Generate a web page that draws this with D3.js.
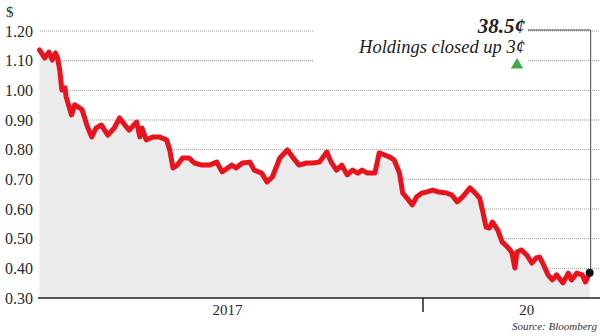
<!DOCTYPE html>
<html><head><meta charset="utf-8">
<script src="https://cdn.jsdelivr.net/npm/d3@7"></script>
<style>body{margin:0;background:#fff}svg{display:block}</style>
</head><body><svg id="c" width="600" height="336"></svg>
<script>
const dates = ["2017-01-07","2017-01-12","2017-01-16","2017-01-19","2017-01-22","2017-01-24","2017-01-26","2017-01-28","2017-01-31","2017-02-01",
"2017-02-06","2017-02-09","2017-02-14","2017-02-16","2017-02-21","2017-02-25","2017-03-01","2017-03-06","2017-03-12","2017-03-18",
"2017-03-23","2017-03-28","2017-04-01","2017-04-08","2017-04-11","2017-04-13","2017-04-17","2017-04-23","2017-04-29","2017-05-06",
"2017-05-09","2017-05-12","2017-05-16","2017-05-21","2017-05-27","2017-06-01","2017-06-08","2017-06-15","2017-06-22","2017-06-27",
"2017-07-06","2017-07-10","2017-07-16","2017-07-23","2017-07-27","2017-08-03","2017-08-08","2017-08-13","2017-08-20","2017-08-27",
"2017-09-01","2017-09-07","2017-09-14","2017-09-20","2017-09-26","2017-10-03","2017-10-07","2017-10-12","2017-10-17","2017-10-22",
"2017-10-27","2017-11-01","2017-11-05","2017-11-10","2017-11-17","2017-11-21","2017-11-26","2017-12-01","2017-12-05","2017-12-10",
"2017-12-13","2017-12-17","2017-12-22","2017-12-26","2017-12-31","2018-01-04","2018-01-10","2018-01-16","2018-01-23","2018-01-28",
"2018-02-02","2018-02-07","2018-02-14","2018-02-18","2018-02-23","2018-02-26","2018-03-01","2018-03-04","2018-03-07","2018-03-12",
"2018-03-16","2018-03-21","2018-03-25","2018-03-28","2018-03-30","2018-04-03","2018-04-08","2018-04-13","2018-04-17","2018-04-20",
"2018-04-23","2018-04-28","2018-05-02","2018-05-06","2018-05-12","2018-05-17","2018-05-20","2018-05-25","2018-05-30","2018-06-02",
"2018-06-06"];
const prices = [1.136,1.109,1.129,1.102,1.126,1.109,1.069,1.001,1.008,0.978,
0.917,0.951,0.940,0.934,0.876,0.843,0.873,0.883,0.849,0.873,
0.907,0.883,0.866,0.893,0.843,0.873,0.833,0.843,0.843,0.833,
0.799,0.738,0.748,0.772,0.772,0.755,0.748,0.748,0.758,0.725,
0.748,0.738,0.755,0.758,0.731,0.721,0.691,0.708,0.772,0.799,
0.775,0.748,0.755,0.755,0.758,0.792,0.758,0.731,0.748,0.715,
0.731,0.721,0.731,0.721,0.721,0.789,0.782,0.775,0.765,0.721,
0.654,0.637,0.614,0.641,0.654,0.657,0.664,0.657,0.654,0.647,
0.624,0.641,0.671,0.657,0.637,0.590,0.539,0.536,0.556,0.529,
0.489,0.472,0.455,0.401,0.455,0.462,0.445,0.418,0.435,0.438,
0.418,0.378,0.361,0.378,0.351,0.384,0.361,0.384,0.378,0.354,
0.385];
const yTicks = [0.30,0.40,0.50,0.60,0.70,0.80,0.90,1.00,1.10,1.20];
const xLabels = ["2017","20"];
const xLabelDates = ["2017-07-02","2018-04-08"];
const xTickDates = ["2018-01-01"];
const unitLabel = "$";
const closeLabel = "38.5¢";
const noteLabel = "Holdings closed up 3¢";
const sourceLabel = "Source: Bloomberg";

const parse = d3.utcParse("%Y-%m-%d");
const data = dates.map((d,i)=>({date:parse(d), value:prices[i]}));
const svg = d3.select("#c");
const serif = "'Liberation Serif','Times New Roman',serif";

const x = d3.scaleUtc().domain([parse("2017-01-01"), parse("2018-01-01")]).range([33,423]);
const y = d3.scaleLinear().domain([0.3,1.2]).range([298,31]);
const left = 40, right = 600;

// gridlines
svg.append("g").selectAll("line").data(yTicks.slice(1)).join("line")
  .attr("x1",left).attr("x2",right)
  .attr("y1",d=>y(d)).attr("y2",d=>y(d))
  .attr("stroke","#9a9a9a").attr("stroke-width",1).attr("stroke-dasharray","1,1");

// y labels
svg.append("g").selectAll("text").data(yTicks).join("text")
  .attr("x",33).attr("y",d=>y(d)).attr("dy","0.35em")
  .attr("text-anchor","end").attr("font-family",serif).attr("font-size",16).attr("fill","#2a2a2a")
  .text(d=>d3.format(".2f")(d));
svg.append("text").attr("x",6).attr("y",17).attr("font-family",serif).attr("font-size",15).attr("fill","#2a2a2a").text(unitLabel);

// white box behind annotation
svg.append("rect").attr("x",313).attr("y",18).attr("width",214).attr("height",52).attr("fill","#fff");

// area
const area = d3.area().x(d=>x(d.date)).y0(y(0.3)).y1(d=>y(d.value)).curve(d3.curveLinear);
svg.append("path").datum(data).attr("d",area).attr("fill","#ebebeb");

// line
const line = d3.line().x(d=>x(d.date)).y(d=>y(d.value)).curve(d3.curveLinear);
svg.append("path").datum(data).attr("d",line).attr("fill","none")
  .attr("stroke","#e8131c").attr("stroke-width",5).attr("stroke-linejoin","round").attr("stroke-linecap","round");

// x axis
svg.append("line").attr("x1",38).attr("x2",600).attr("y1",y(0.3)).attr("y2",y(0.3)).attr("stroke","#222").attr("stroke-width",1.5);
svg.append("g").selectAll("line").data(xTickDates).join("line")
  .attr("x1",d=>x(parse(d))).attr("x2",d=>x(parse(d)))
  .attr("y1",y(0.3)).attr("y2",y(0.3)+14).attr("stroke","#222").attr("stroke-width",1.5);
svg.append("g").selectAll("text").data(xLabels).join("text")
  .attr("x",(d,i)=>x(parse(xLabelDates[i]))).attr("y",315)
  .attr("text-anchor","middle").attr("font-family",serif).attr("font-size",15).attr("fill","#2a2a2a")
  .text(d=>d);

// annotation
const last = data[data.length-1];
const lx = x(last.date)+1, ly = y(last.value);
svg.append("path").attr("d",`M528,30H${lx}V${ly}`).attr("fill","none").attr("stroke","#444").attr("stroke-width",1);
svg.append("circle").attr("cx",x(last.date)).attr("cy",ly).attr("r",4).attr("fill","#111");
svg.append("text").attr("x",525).attr("y",33).attr("text-anchor","end").attr("font-family",serif)
  .attr("font-size",21).attr("font-weight","bold").attr("font-style","italic").attr("fill","#222").text(closeLabel);
svg.append("text").attr("x",525).attr("y",53).attr("text-anchor","end").attr("font-family",serif)
  .attr("font-size",18.5).attr("font-style","italic").attr("fill","#222").text(noteLabel);
svg.append("path").attr("d",d3.symbol().type(d3.symbolTriangle).size(65)()).attr("transform","translate(517,65)").attr("fill","#43a84f");
svg.append("text").attr("x",597).attr("y",330).attr("text-anchor","end").attr("font-family",serif)
  .attr("font-size",11).attr("font-style","italic").attr("fill","#333").text(sourceLabel);
</script></body></html>
